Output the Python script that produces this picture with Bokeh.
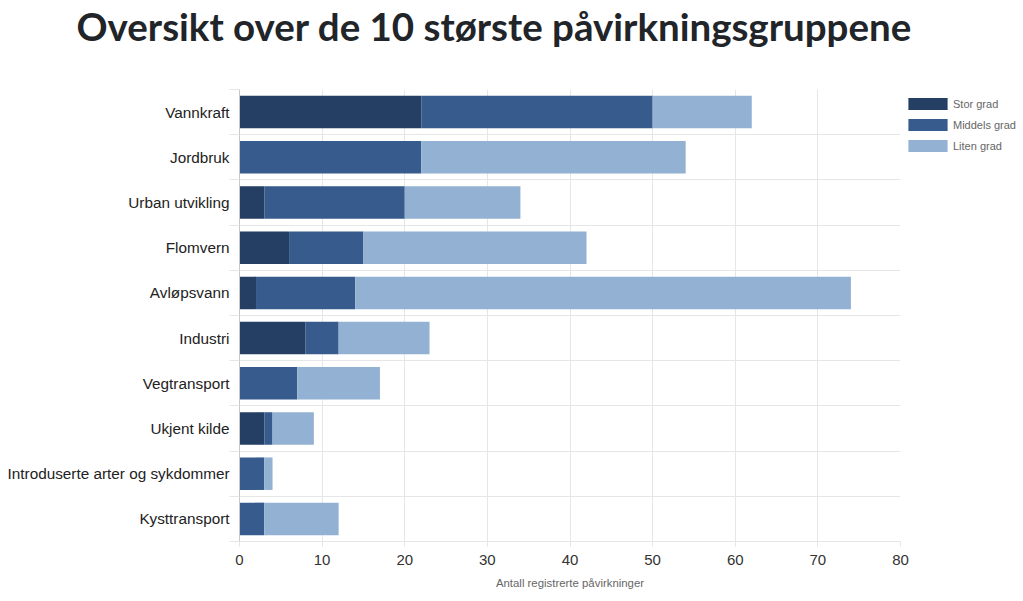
from bokeh.plotting import figure
from bokeh.models import Range1d, FixedTicker, ColumnDataSource, Legend, LegendItem, Title
from bokeh.embed import file_html
from bokeh.resources import INLINE

title_text = "Oversikt over de 10 største påvirkningsgruppene"
x_label = "Antall registrerte påvirkninger"
categories = ["Vannkraft", "Jordbruk", "Urban utvikling", "Flomvern", "Avløpsvann",
              "Industri", "Vegtransport", "Ukjent kilde",
              "Introduserte arter og sykdommer", "Kysttransport"]
series_names = ["Stor grad", "Middels grad", "Liten grad"]
stor = [22, 0, 3, 6, 2, 8, 0, 3, 0, 0]
middels = [28, 22, 17, 9, 12, 4, 7, 1, 3, 3]
liten = [12, 32, 14, 27, 60, 11, 10, 5, 1, 9]
x_ticks = [0, 10, 20, 30, 40, 50, 60, 70, 80]
colors = ["#243f63", "#365b8c", "#93b2d3"]

n = len(categories)
idx = list(range(n))
source = ColumnDataSource(dict(y=idx, stor=stor, middels=middels, liten=liten))

GRID = "#e6e6e6"
FONT = "Liberation Sans"

p = figure(frame_width=661, frame_height=452,
           x_range=Range1d(0, 80), y_range=Range1d(n - 0.5, -0.5),
           output_backend="svg", toolbar_location=None,
           min_border_left=239, min_border_top=89, min_border_bottom=55,
           min_border_right=123, outline_line_color=None,
           background_fill_color="white", border_fill_color="white")
p.title.text = ""

renderers = p.hbar_stack(["stor", "middels", "liten"], y="y", height=0.72,
                         color=colors, line_width=0, source=source)

# y axis
boundaries = [i - 0.5 for i in range(n + 1)]
p.yaxis.ticker = FixedTicker(ticks=idx, minor_ticks=boundaries)
p.yaxis.major_label_overrides = {i: c for i, c in enumerate(categories)}
p.yaxis.major_tick_out = 0
p.yaxis.major_tick_in = 0
p.yaxis.minor_tick_out = 10
p.yaxis.minor_tick_in = 0
p.yaxis.minor_tick_line_color = GRID
p.yaxis.axis_line_color = "#c8c8c8"
p.yaxis.major_label_standoff = 0
p.yaxis.major_label_text_font = FONT
p.yaxis.major_label_text_font_size = "15.3px"
p.yaxis.major_label_text_color = "#222222"

# x axis
p.xaxis.ticker = FixedTicker(ticks=x_ticks)
p.xaxis.axis_line_color = GRID
p.xaxis.major_tick_out = 5
p.xaxis.major_tick_in = 0
p.xaxis.major_tick_line_color = GRID
p.xaxis.minor_tick_line_color = None
p.xaxis.major_label_standoff = 8
p.xaxis.major_label_text_font = FONT
p.xaxis.major_label_text_font_size = "15px"
p.xaxis.major_label_text_color = "#333333"
p.xaxis.axis_label = x_label
p.xaxis.axis_label_text_font = FONT
p.xaxis.axis_label_text_font_size = "11.4px"
p.xaxis.axis_label_text_font_style = "normal"
p.xaxis.axis_label_text_color = "#666666"
p.xaxis.axis_label_standoff = 9

# grids
p.xgrid.ticker = FixedTicker(ticks=x_ticks)
p.xgrid.grid_line_color = GRID
p.ygrid.ticker = FixedTicker(ticks=boundaries)
p.ygrid.grid_line_color = GRID

# spacer between title and plot, then the title itself
spacer = Title(text=" ", text_font="Lato", text_font_size="10px", standoff=27)
p.add_layout(spacer, "above")
main_title = Title(text=title_text, align="left", offset=-163,
                   text_font="Lato", text_font_size="38.5px",
                   text_font_style="bold", text_color="#212529", standoff=0)
p.add_layout(main_title, "above")

# legend, in the right-hand panel
legend = Legend(items=[LegendItem(label=nm, renderers=[r]) for nm, r in zip(series_names, renderers)],
                location=(3, 388), orientation="vertical",
                glyph_width=49, glyph_height=15, label_height=12,
                label_standoff=1, spacing=6, padding=0, margin=0,
                label_text_font=FONT, label_text_font_size="11px",
                label_text_color="#666666", border_line_color=None,
                background_fill_alpha=0)
p.add_layout(legend, "right")

with open("out.html", "w") as f:
    f.write(file_html(p, INLINE))
